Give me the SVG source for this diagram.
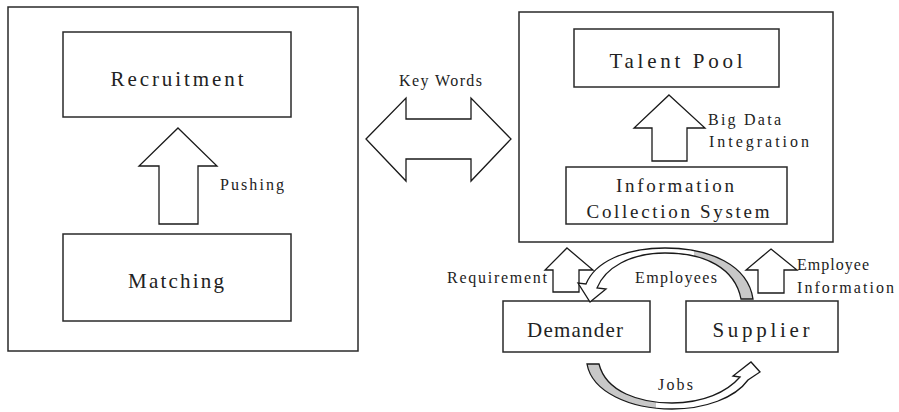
<svg xmlns="http://www.w3.org/2000/svg" width="899" height="412" viewBox="0 0 899 412">
  <style>
    .box { fill: #fff; stroke: #2a2a2a; stroke-width: 1.5; }
    .arr { fill: #fff; stroke: #1a1a1a; stroke-width: 1.3; stroke-linejoin: miter; }
    text { font-family: "Liberation Serif", "DejaVu Serif", serif; fill: #222; }
    .t20 { font-size: 21px; text-anchor: middle; }
    .t18 { font-size: 19px; text-anchor: middle; }
    .t15 { font-size: 16px; }
  </style>
  <defs>
    <linearGradient id="gEmp" x1="0" y1="0" x2="1" y2="0">
      <stop offset="0" stop-color="#fff"/>
      <stop offset="0.66" stop-color="#fff"/>
      <stop offset="0.66" stop-color="#c8c8c8"/>
      <stop offset="1" stop-color="#c8c8c8"/>
    </linearGradient>
    <linearGradient id="gJobs" x1="0" y1="0" x2="1" y2="0">
      <stop offset="0" stop-color="#c8c8c8"/>
      <stop offset="0.4" stop-color="#c8c8c8"/>
      <stop offset="0.4" stop-color="#fff"/>
      <stop offset="1" stop-color="#fff"/>
    </linearGradient>
  </defs>
  <rect width="899" height="412" fill="#fff"/>

  <g id="left-panel">
    <rect class="box" x="8" y="7" width="350" height="344"/>
  </g>
  <g id="recruitment">
    <rect class="box" x="63" y="32" width="228" height="85"/>
    <text class="t20" x="177" y="86" textLength="133" lengthAdjust="spacing">Recruitment</text>
  </g>
  <g id="matching">
    <rect class="box" x="63" y="234" width="228" height="87"/>
    <text class="t20" x="176" y="288" textLength="96" lengthAdjust="spacing">Matching</text>
  </g>

  <g id="right-panel">
    <rect class="box" x="519" y="12" width="314" height="230"/>
  </g>
  <g id="talent-pool">
    <rect class="box" x="574" y="29" width="205" height="58"/>
    <text class="t20" x="676" y="68" textLength="133" lengthAdjust="spacing">Talent Pool</text>
  </g>
  <g id="info-collection">
    <rect class="box" x="566" y="167" width="221" height="57"/>
    <text class="t18" x="675" y="192" textLength="118" lengthAdjust="spacing">Information</text>
    <text class="t18" x="678" y="218" textLength="183" lengthAdjust="spacing">Collection System</text>
  </g>
  <g id="demander">
    <rect class="box" x="503" y="301" width="147" height="51"/>
    <text class="t20" x="575" y="337" textLength="96" lengthAdjust="spacing">Demander</text>
  </g>
  <g id="supplier">
    <rect class="box" x="686" y="301" width="152" height="51"/>
    <text class="t20" x="761" y="337" textLength="97" lengthAdjust="spacing">Supplier</text>
  </g>

  <g id="connectors">
    <!-- Pushing -->
    <polygon class="arr" points="178,128 217,166 198,166 198,224 159,224 159,166 139,166"/>
    <text class="t15" x="220" y="190" textLength="64" lengthAdjust="spacing">Pushing</text>
    <!-- Key Words double arrow -->
    <polygon class="arr" points="366,139 406,98 406,119 471,119 471,98 511,139 471,181 471,159 406,159 406,181"/>
    <text class="t15" x="399" y="86" textLength="83" lengthAdjust="spacing">Key Words</text>
    <!-- Big Data Integration -->
    <polygon class="arr" points="669,95 705,128 687,128 687,161 652,161 652,128 634,128"/>
    <text class="t15" x="708" y="125" textLength="73" lengthAdjust="spacing">Big Data</text>
    <text class="t15" x="709" y="147" textLength="100" lengthAdjust="spacing">Integration</text>
    <!-- Requirement -->
    <polygon class="arr" points="567,248 593,270 579,270 579,292 553,292 553,270 545,270"/>
    <text class="t15" x="447" y="283" textLength="100" lengthAdjust="spacing">Requirement</text>
    <!-- Employee Information -->
    <polygon class="arr" points="771,249 797,270 784,270 784,293 758,293 758,270 746,270"/>
    <text class="t15" x="797" y="270" textLength="72" lengthAdjust="spacing">Employee</text>
    <text class="t15" x="797" y="293" textLength="97" lengthAdjust="spacing">Information</text>
    <!-- Employees curved arrow -->
    <path class="arr" style="fill:url(#gEmp)" d="M 741,299 L 753,299 C 748,265 710,248 665,248 C 625,248 595,262 586,284 L 578,283 L 590,302 L 606,289 L 597,288 C 605,268 630,253 665,253 C 705,253 735,268 741,299 Z"/>
    <text class="t15" x="635" y="283" textLength="82" lengthAdjust="spacing">Employees</text>
    <!-- Jobs curved arrow -->
    <path class="arr" style="fill:url(#gJobs)" d="M 587,364 L 599,364 C 606,392 640,403 672,403 C 703,403 727,392 740,377 L 733,376 L 751,362 L 760,372 L 748,380 C 735,398 705,409 672,409 C 630,409 592,392 587,364 Z"/>
    <text class="t15" x="658" y="390" textLength="35" lengthAdjust="spacing">Jobs</text>
  </g>
</svg>
